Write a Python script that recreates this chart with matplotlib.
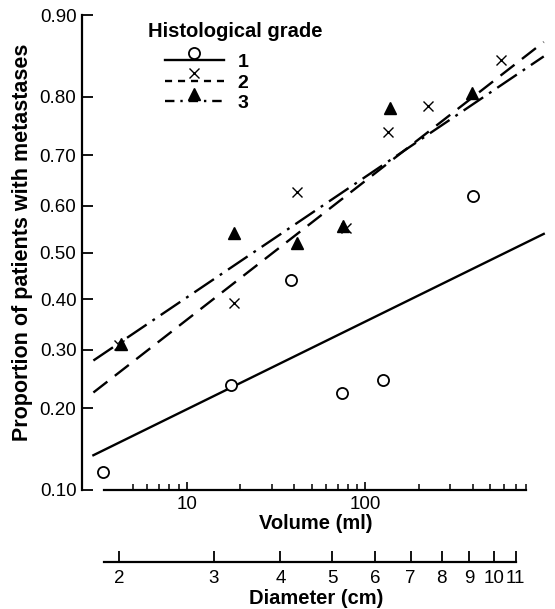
"""Proportion of patients with metastases vs tumour volume, by histological grade.

Probit y axis, log volume axis with a matching diameter scale underneath.
"""

from statistics import NormalDist

import matplotlib
matplotlib.use("Agg")
import matplotlib.pyplot as plt
import numpy as np
from matplotlib.legend_handler import HandlerLine2DCompound
from matplotlib.lines import Line2D
from matplotlib.ticker import FixedLocator, NullFormatter, NullLocator

plt.rcParams["font.family"] = ["Liberation Sans", "DejaVu Sans"]

# --- data ---------------------------------------------------------------
grade1_volume = [3.4, 17.7, 38.4, 74.2, 126, 401]
grade1_prop = [0.118, 0.237, 0.441, 0.224, 0.246, 0.619]

grade2_volume = [4.2, 18.4, 41.5, 78, 134, 225, 577]
grade2_prop = [0.309, 0.392, 0.627, 0.552, 0.743, 0.786, 0.851]

grade3_volume = [4.3, 18.4, 41.5, 75, 138, 396]
grade3_prop = [0.311, 0.541, 0.520, 0.556, 0.783, 0.805]

# fitted probit lines (end points)
fit_volume = [3.0, 1000]
grade1_fit = [0.137, 0.540]
grade2_fit = [0.225, 0.872]
grade3_fit = [0.280, 0.855]

prop_ticks = [0.10, 0.20, 0.30, 0.40, 0.50, 0.60, 0.70, 0.80, 0.90]
volume_major = [10, 100]
volume_minor = [5, 6, 7, 8, 9, 20, 30, 40, 50, 60, 70, 80, 90,
                200, 300, 400, 500, 600, 700, 800]
diameter_ticks = [2, 3, 4, 5, 6, 7, 8, 9, 10, 11]

_nd = NormalDist()


def probit(p):
    p = np.clip(np.asarray(p, dtype=float), 1e-9, 1 - 1e-9)
    return np.vectorize(_nd.inv_cdf, otypes=[float])(p)


def inv_probit(z):
    z = np.asarray(z, dtype=float)
    return np.vectorize(_nd.cdf, otypes=[float])(z)


def vol_to_diam(v):
    v = np.clip(np.asarray(v, dtype=float), 1e-9, None)
    return np.cbrt(6.0 * v / np.pi)


def diam_to_vol(d):
    d = np.asarray(d, dtype=float)
    return np.pi / 6.0 * d ** 3


class RaisedMarkerHandler(HandlerLine2DCompound):
    """Legend entry with the marker sitting just above the line sample."""

    def create_artists(self, legend, orig_handle, xdescent, ydescent,
                       width, height, fontsize, trans):
        line, marker = super().create_artists(
            legend, orig_handle, xdescent, ydescent, width, height,
            fontsize, trans)
        marker.set_ydata(np.asarray(marker.get_ydata()) + 5.5)
        return [line, marker]


fig = plt.figure(figsize=(5.55, 6.09), dpi=100)
ax = fig.add_axes([82 / 555, 119 / 609, 468 / 555, 475 / 609])

ax.set_xscale("log")
ax.set_yscale("function", functions=(probit, inv_probit))
ax.set_xlim(2.59, 1084)
ax.set_ylim(0.10, 0.90)

lw = 1.7
dashed = (0, (7.5, 4))
dashdot = (0, (10, 3, 1.2, 3))
ax.plot(fit_volume, grade1_fit, color="black", lw=lw, ls="-")
ax.plot(fit_volume, grade2_fit, color="black", lw=lw, ls=dashed)
ax.plot(fit_volume, grade3_fit, color="black", lw=lw, ls=dashdot)

ax.plot(grade1_volume, grade1_prop, ls="none", marker="o", ms=8,
        mfc="white", mec="black", mew=1.3)
ax.plot(grade2_volume, grade2_prop, ls="none", marker="x", ms=7,
        color="black", mew=1.0)
ax.plot(grade3_volume, grade3_prop, ls="none", marker="^", ms=8.5,
        color="black")

# spines: detached y axis on the left, volume scale along the bottom
for side in ("top", "right"):
    ax.spines[side].set_visible(False)
ax.spines["left"].set_linewidth(1.6)
ax.spines["bottom"].set_linewidth(1.6)
ax.spines["bottom"].set_bounds(3.44, 800)

ax.yaxis.set_major_locator(FixedLocator(prop_ticks))
ax.yaxis.set_minor_locator(NullLocator())
ax.set_yticklabels([f"{p:.2f}" for p in prop_ticks])
ax.tick_params(axis="y", direction="in", length=8, width=1.3,
               labelsize=13.5, pad=4)

ax.xaxis.set_major_locator(FixedLocator(volume_major))
ax.xaxis.set_minor_locator(FixedLocator(volume_minor))
ax.xaxis.set_minor_formatter(NullFormatter())
ax.set_xticklabels([str(v) for v in volume_major])
ax.tick_params(axis="x", which="major", direction="in", length=6,
               width=1.2, labelsize=13.5, pad=4)
ax.tick_params(axis="x", which="minor", direction="in", length=4.5,
               width=1.1)

ax.set_xlabel("Volume (ml)", fontsize=14.5, fontweight="bold", labelpad=1)
ax.set_ylabel("Proportion of patients with metastases", fontsize=15.5,
              fontweight="bold")
ax.yaxis.set_label_coords(-0.105, 0.522)

# diameter scale below the volume scale
sec = ax.secondary_xaxis(-0.1516, functions=(vol_to_diam, diam_to_vol))
sec.xaxis.set_major_locator(FixedLocator(diameter_ticks))
sec.xaxis.set_minor_locator(NullLocator())
sec.set_xticklabels([str(d) for d in diameter_ticks])
sec.spines["bottom"].set_linewidth(1.6)
sec.spines["bottom"].set_bounds(float(vol_to_diam(3.44)), 11)
sec.tick_params(axis="x", direction="in", length=8, width=1.3,
                labelsize=13.5, pad=6)
sec.set_xlabel("Diameter (cm)", fontsize=14.5, fontweight="bold",
               labelpad=1)

# legend
handles = [
    Line2D([], [], color="black", lw=lw, ls="-", marker="o", ms=8,
           mfc="white", mec="black", mew=1.3),
    Line2D([], [], color="black", lw=lw, ls=(0, (3, 2.5)), marker="x",
           ms=7, mew=1.0),
    Line2D([], [], color="black", lw=lw, ls=(0, (4, 2.5, 1, 2.5)),
           marker="^", ms=8.5),
]
ax.text(0.141, 0.966, "Histological grade", transform=ax.transAxes,
        fontsize=14.5, fontweight="bold", va="center", ha="left")
ax.legend(handles, ["1", "2", "3"], loc="upper left",
          bbox_to_anchor=(0.177, 0.919), frameon=False, borderpad=0,
          borderaxespad=0, handlelength=3.05, handletextpad=0.7,
          labelspacing=0.15, prop={"size": 14, "weight": "bold"},
          handler_map={Line2D: RaisedMarkerHandler()})

fig.savefig("out.png", dpi=100)
